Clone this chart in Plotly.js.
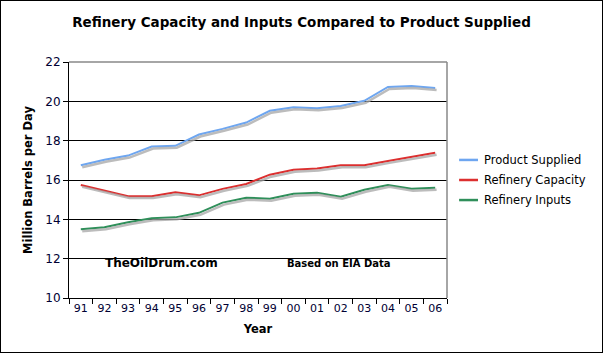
<!DOCTYPE html>
<html><head><meta charset="utf-8">
<script src="https://cdn.plot.ly/plotly-3.0.1.min.js"></script>
<style>body{margin:0;background:#fff}#c{width:601px;height:351px;border:1px solid #000}</style>
</head><body><div id="c"></div>
<script>
const years = ["91","92","93","94","95","96","97","98","99","00","01","02","03","04","05","06"];
const productSupplied = [16.75,17.03,17.24,17.70,17.74,18.31,18.60,18.92,19.52,19.70,19.65,19.76,20.03,20.73,20.78,20.68];
const refineryCapacity = [15.75,15.48,15.18,15.18,15.38,15.22,15.55,15.80,16.27,16.52,16.58,16.75,16.75,16.97,17.17,17.38];
const refineryInputs = [13.50,13.60,13.85,14.05,14.10,14.33,14.85,15.10,15.05,15.30,15.35,15.15,15.50,15.75,15.55,15.60];
const names = ["Product Supplied","Refinery Capacity","Refinery Inputs"];
const colors = ["#6ea6f0","#dc2f2f","#2f8f5a"];
const series = [productSupplied, refineryCapacity, refineryInputs];

const F = 'DejaVu Sans, Verdana, sans-serif';
const traces = [];
series.forEach((s,i)=>traces.push({x:years,y:s,xaxis:'x2',yaxis:'y2',type:'scatter',mode:'lines',
  line:{color:'rgba(165,165,165,0.75)',width:2.5},showlegend:false,hoverinfo:'skip'}));
series.forEach((s,i)=>traces.push({x:years,y:s,type:'scatter',mode:'lines',name:names[i],
  line:{color:colors[i],width:2},showlegend:false}));

// legend keys (drawn manually so the key line can be short as in the reference)
const legendY = [0.585,0.5,0.415];
const shapes = [
  {type:'line',xref:'paper',yref:'paper',x0:0,x1:1,y0:1,y1:1,line:{color:'#888',width:1.5},layer:'above'},
  {type:'line',xref:'paper',yref:'paper',x0:1,x1:1,y0:0,y1:1,line:{color:'#888',width:1.5},layer:'above'}
];
const annotations = [
  {text:'<b>TheOilDrum.com</b>',xref:'paper',yref:'paper',x:0.246,y:0.11,xanchor:'center',showarrow:false,
    font:{family:F,size:12,color:'#000'}},
  {text:'<b>Based on EIA Data</b>',xref:'paper',yref:'paper',x:0.714,y:0.115,xanchor:'center',showarrow:false,
    font:{family:F,size:10,color:'#000'}}
];
names.forEach((n,i)=>{
  shapes.push({type:'line',xref:'paper',yref:'paper',x0:1.032,x1:1.082,y0:legendY[i],y1:legendY[i],
    line:{color:colors[i],width:2.5}});
  annotations.push({text:n,xref:'paper',yref:'paper',x:1.092,y:legendY[i],xanchor:'left',yanchor:'middle',
    showarrow:false,font:{family:F,size:11.5,color:'#000'}});
});

const tickFont = {family:F,size:11,color:'#000033'};
const layout = {
  width:601,height:351,
  margin:{l:68,r:155,t:61,b:54,autoexpand:false},
  paper_bgcolor:'#fff',plot_bgcolor:'#fff',showlegend:false,
  title:{text:'<b>Refinery Capacity and Inputs Compared to Product Supplied</b>',
    font:{family:F,size:13.5,color:'#000'},x:0.5,xanchor:'center',y:0.94,yanchor:'middle'},
  xaxis:{type:'category',tickson:'boundaries',ticks:'outside',ticklen:5,tickcolor:'#000',tickangle:0,
    showline:true,linecolor:'#000',linewidth:1,showgrid:false,zeroline:false,tickfont:tickFont,
    range:[-0.5,15.5],automargin:false,
    title:{text:'<b>Year</b>',font:{family:F,size:11.5,color:'#000'},standoff:10}},
  xaxis2:{type:'category',range:[-0.56,15.44],overlaying:'x',visible:false,showgrid:false},
  yaxis:{range:[10,22],dtick:2,ticks:'outside',ticklen:5,tickcolor:'#000',showline:true,linecolor:'#000',
    linewidth:1,showgrid:true,gridcolor:'#000',gridwidth:1,zeroline:false,automargin:false,
    tickfont:Object.assign({},tickFont,{size:12}),
    title:{text:'<b>Million Barrels per Day</b>',font:{family:F,size:11.5,color:'#000'},standoff:10}},
  yaxis2:{range:[10.1,22.1],overlaying:'y',visible:false,showgrid:false},
  shapes:shapes,
  annotations:annotations
};
Plotly.newPlot('c',traces,layout,{displayModeBar:false,staticPlot:true});
</script></body></html>
